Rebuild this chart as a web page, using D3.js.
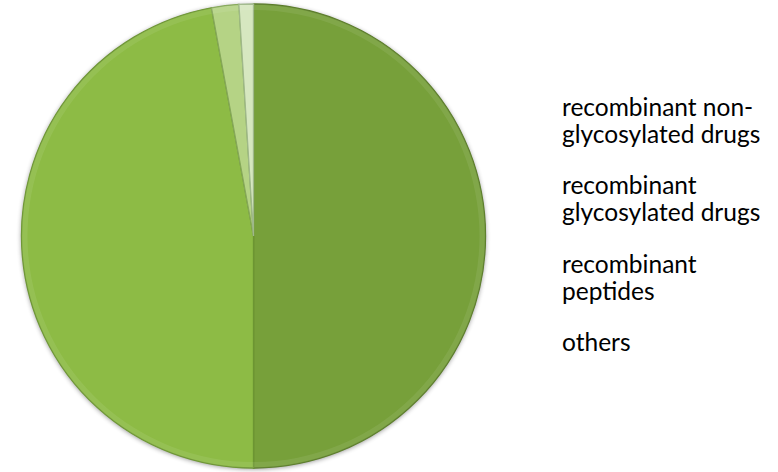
<!DOCTYPE html>
<html>
<head>
<meta charset="utf-8">
<script src="https://cdn.jsdelivr.net/npm/d3@7"></script>
<style>
  body { margin: 0; background: #fff; }
  text { font-family: Lato, "Open Sans", sans-serif; fill: #000; }
</style>
</head>
<body>
<script>
// pie data
const categories = ["recombinant non-glycosylated drugs", "recombinant glycosylated drugs", "recombinant peptides", "others"];
const legendLines = [["recombinant non-", "glycosylated drugs"], ["recombinant", "glycosylated drugs"], ["recombinant", "peptides"], ["others"]];
const values = [50, 47.1, 1.9, 1.0];
const colors = ["#77a03a", "#8dbb45", "#b5d385", "#d6e7c0"];
const edges = ["#5a7c28", "#6c9532", "#86a85a", "#9fb88a"];

const width = 778, height = 472;
const cx = 253.5, cy = 236, r = 232;

const svg = d3.select("body").append("svg")
  .attr("width", width)
  .attr("height", height);

const defs = svg.append("defs");
const shadow = defs.append("filter").attr("id", "shadow")
  .attr("x", "-10%").attr("y", "-10%").attr("width", "120%").attr("height", "120%");
shadow.append("feGaussianBlur").attr("in", "SourceAlpha").attr("stdDeviation", 2.5);
shadow.append("feOffset").attr("dx", 0).attr("dy", 1).attr("result", "b");
shadow.append("feComponentTransfer").append("feFuncA").attr("type", "linear").attr("slope", 0.45);
const merge = shadow.append("feMerge");
merge.append("feMergeNode");
merge.append("feMergeNode").attr("in", "SourceGraphic");

const pie = d3.pie().sort(null).value(d => d);
const arc = d3.arc().innerRadius(0).outerRadius(r);
const arcs = pie(values);

const g = svg.append("g")
  .attr("transform", `translate(${cx},${cy})`);

g.append("circle").attr("r", r).attr("fill", colors[0]).attr("filter", "url(#shadow)");

g.selectAll("path.slice")
  .data(arcs)
  .enter().append("path")
  .attr("class", "slice")
  .attr("d", arc)
  .attr("fill", (d, i) => colors[i])
  .attr("stroke", (d, i) => edges[i])
  .attr("stroke-width", 1.3);

// soft bevel highlight along slice edges
const bevel = d3.arc().innerRadius(r - 6).outerRadius(r);
g.selectAll("path.bevel")
  .data(arcs)
  .enter().append("path")
  .attr("class", "bevel")
  .attr("d", bevel)
  .attr("fill", "#ffffff")
  .attr("opacity", 0.08);

// legend, text only
const legend = svg.append("g");
const lineH = 27;
const groupTop = [116, 194, 273, 351];
legendLines.forEach((lines, i) => {
  const t = legend.append("text").attr("x", 562).attr("y", groupTop[i]).style("font-size", "24.5px");
  lines.forEach((l, j) => {
    t.append("tspan").attr("x", 562).attr("dy", j === 0 ? 0 : lineH).text(l);
  });
});
</script>
</body>
</html>
